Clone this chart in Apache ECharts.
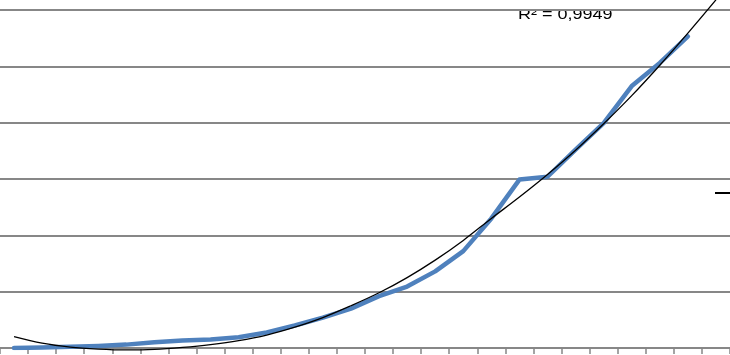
<!DOCTYPE html>
<html>
<head>
<meta charset="utf-8">
<script src="https://cdn.jsdelivr.net/npm/echarts@6/dist/echarts.min.js"></script>
<style>
  html, body { margin: 0; padding: 0; background: #fff; }
  #chart { width: 730px; height: 355px; }
</style>
</head>
<body>
<div id="chart"></div>
<script>
// categories (x axis labels are cropped off in the reference)
const categories = ['1', '2', '3', '4', '5', '6', '7', '8', '9', '10', '11', '12', '13',
  '14', '15', '16', '17', '18', '19', '20', '21', '22', '23', '24', '25', '26']
// blue series
const seriesValues = [0, 0.1, 0.2, 0.35, 0.6, 1.0, 1.35, 1.5, 1.9, 2.75, 4.0, 5.4, 7.0,
  9.2, 10.9, 13.6, 17.2, 23.0, 29.9, 30.4, 35.2, 39.9, 46.5, 50.6, 55.3, null]
// polynomial trendline at each category
const trendValues = [2.0, 0.85, 0.15, -0.2, -0.35, -0.25, 0.1, 0.6, 1.3, 2.3, 3.7, 5.4, 7.5,
  9.8, 12.5, 15.6, 19.1, 23.0, 26.8, 30.8, 35.1, 39.8, 44.8, 50.2, 55.9, 61.8]
const yTicks = [0, 10, 20, 30, 40, 50, 60]
const r2Label = 'R² = 0,9949'

const chart = echarts.init(document.getElementById('chart'))
const gridColor = '#878787'

const options = {
  animation: false,
  grid: { left: 0, right: 0, top: 10, bottom: 7 },
  xAxis: {
    type: 'category',
    data: categories,
    boundaryGap: true,
    axisLine: { lineStyle: { color: gridColor, width: 2 } },
    axisTick: { show: true, length: 6, lineStyle: { color: gridColor, width: 1.5 } },
    axisLabel: { show: false }
  },
  yAxis: {
    type: 'value',
    min: yTicks[0],
    max: yTicks[yTicks.length - 1],
    interval: yTicks[1] - yTicks[0],
    axisLine: { show: false },
    axisTick: { show: false },
    axisLabel: { show: false },
    splitLine: { lineStyle: { color: gridColor, width: 2 } }
  },
  series: [
    {
      type: 'line',
      data: seriesValues,
      symbol: 'none',
      lineStyle: { color: '#4f81bd', width: 4.5, cap: 'round', join: 'round' },
      z: 2
    },
    {
      // 趋势线
      type: 'line',
      data: trendValues,
      symbol: 'none',
      smooth: 0.35,
      clip: false,
      lineStyle: { color: '#000', width: 1.3 },
      z: 3
    }
  ],
  graphic: [
    {
      type: 'text',
      x: 518,
      y: 14.5,
      scaleX: 1.2,
      style: {
        text: r2Label,
        font: '15px "Liberation Sans"',
        fill: '#000',
        verticalAlign: 'middle'
      }
    },
    {
      // cropped legend marker on the right edge
      type: 'line',
      shape: { x1: 715, y1: 193, x2: 730, y2: 193 },
      style: { stroke: '#000', lineWidth: 2 }
    }
  ]
}

chart.setOption(options)
</script>
</body>
</html>
